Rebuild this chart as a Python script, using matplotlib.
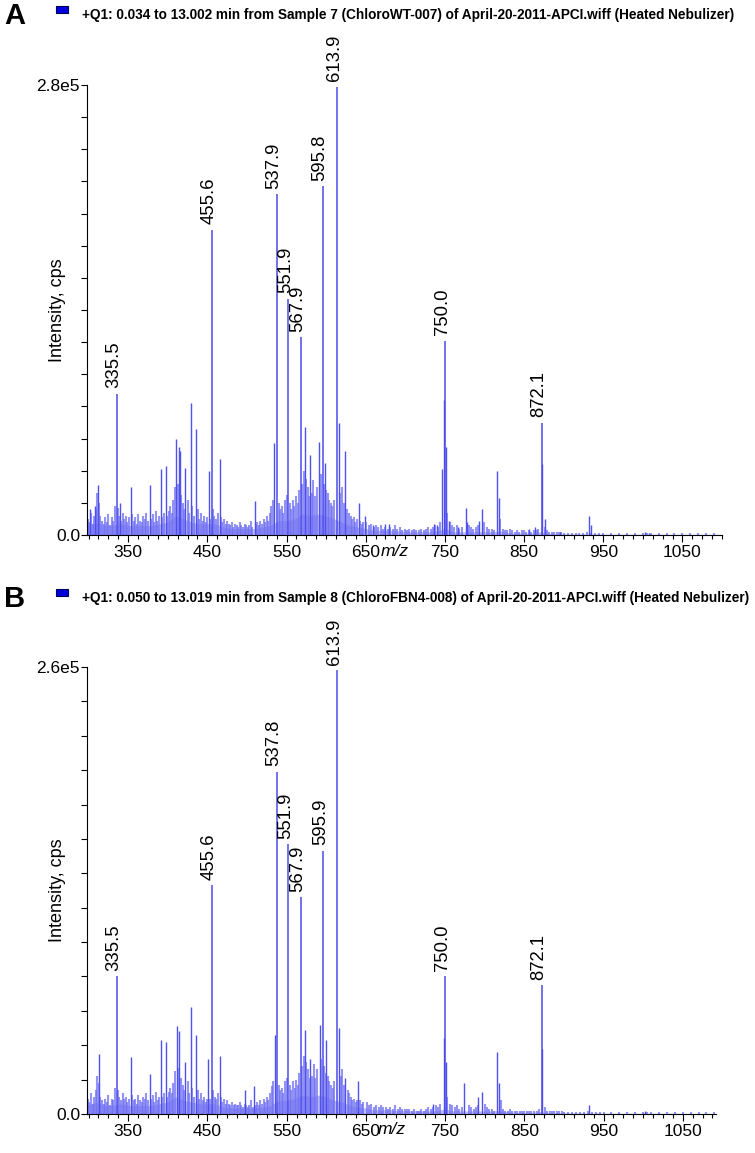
import matplotlib
matplotlib.use("Agg")
import matplotlib.pyplot as plt
import matplotlib.patches as patches
from matplotlib.ticker import MultipleLocator, FixedLocator

plt.rcParams['font.family'] = ['Liberation Sans', 'DejaVu Sans']

W, H = 755, 1153

# ---- data (intensities in units of 1e3 cps) ----
titles = [
    "+Q1: 0.034 to 13.002 min from Sample 7 (ChloroWT-007) of April-20-2011-APCI.wiff (Heated Nebulizer)",
    "+Q1: 0.050 to 13.019 min from Sample 8 (ChloroFBN4-008) of April-20-2011-APCI.wiff (Heated Nebulizer)",
]
panel_letters = ["A", "B"]
ymax_labels = ["2.8e5", "2.6e5"]
ymax = [280, 260]

# labelled peaks
label_a_mz = [335.5, 455.6, 537.9, 551.9, 567.9, 595.8, 613.9, 750.0, 872.1]
label_a_h = [88, 190, 212, 147, 123, 217, 279, 121, 70]
label_b_mz = [335.5, 455.6, 537.8, 551.9, 567.9, 595.9, 613.9, 750.0, 872.1]
label_b_h = [80, 133, 199, 157, 126, 153, 258, 80, 75]

# other visible peaks
peaks_a_mz = [302, 308, 312, 340, 353, 377.5, 391, 397.6, 411, 414,
              416, 421.9, 429, 435.4, 451.8, 465.6, 509.7, 534.8, 573.9, 579.7,
              590.7, 598.8, 616, 624, 641, 649, 659, 675, 679, 736.4,
              740.6, 746.9, 748.8, 751.5, 755, 767, 776.3, 778, 793, 797.2,
              816.1, 818, 856, 864.4, 872.5, 876, 895, 932.5, 934.5, 1003,
              1008]
peaks_a_h = [16, 18, 31, 20, 30, 31, 41, 43, 60, 55,
             52, 42, 82, 66, 40, 47, 21, 57, 67, 50,
             58, 45, 70, 52, 20, 12, 6, 7, 7, 7,
             6, 41, 84, 55, 9, 5, 17, 8, 9, 16,
             40, 23, 4, 5, 44, 10, 2, 12, 6, 2,
             1.5]
peaks_b_mz = [313, 354, 377.5, 391, 398.3, 411.4, 414.7, 422, 429.4, 436,
              451.2, 466, 497.6, 508.5, 535.8, 573, 579.5, 591.5, 599.7, 616,
              624.3, 640.6, 735, 748.7, 751.5, 774.4, 791.3, 796.8, 816, 818,
              872.5, 931.6, 1003]
peaks_b_h = [35, 33, 23, 43, 42, 51, 48, 30, 62, 46,
             32, 34, 14, 16, 46, 49, 32, 52, 43, 50,
             21, 19, 6, 44, 30, 18, 10, 13, 36, 18,
             38, 5.5, 1.5]

# low-level "grass" (shared sampling positions)
grass_mz = [299, 301, 303, 305, 307, 309, 311, 313, 315, 317,
            319, 321, 323, 325, 327, 329, 331, 333, 337, 339,
            341, 343, 345, 347, 349, 351, 355, 357, 359, 361,
            363, 365, 367, 369, 371, 373, 375, 379, 381, 383,
            385, 387, 389, 393, 395, 399,
            401, 403, 405, 407, 409, 413, 417, 419, 421, 425,
            427, 431, 433, 438, 440, 442, 444, 446, 448, 450,
            453, 457, 459, 461, 463, 467, 469, 471, 473, 475,
            477, 479, 481, 483, 485, 487, 489, 491, 493, 495,
            497, 499,
            501, 503, 505, 507, 511, 513, 515, 517, 519, 521,
            523, 525, 527, 529, 531, 533, 540, 542, 544, 546,
            548, 550, 554, 556, 558, 560, 562, 564, 566, 570,
            572, 575, 577, 579, 582, 584, 586, 588, 593, 597,
            600, 602, 604, 606, 608, 610, 618, 620, 622, 627,
            629, 631, 633, 635, 637, 639, 643, 645, 647,
            651, 654, 657, 660, 663, 666, 669, 672, 675, 678,
            681, 684, 687, 690, 693, 696, 699, 702, 705, 708,
            711, 714, 717, 720, 723, 726, 729, 732, 735, 738,
            741, 744, 753, 756, 759, 762, 765, 768, 771, 780,
            783, 786, 789, 792, 800, 803, 806, 809, 812, 820,
            823, 826, 829, 832, 835, 838, 841, 844, 847, 850,
            853, 856, 859, 862, 866, 868, 876, 879, 882, 885,
            888, 891, 894, 897, 900, 905, 910, 915, 920, 925,
            930, 935, 940, 945, 950, 960, 970, 980, 990, 1000,
            1005, 1010, 1020, 1030, 1040, 1050, 1060, 1070, 1080, 1090]
grass_a = [10, 8, 14, 7, 12, 16, 26, 20, 12, 9,
           7, 11, 8, 13, 6, 11, 9, 18, 17, 12,
           9, 14, 10, 12, 8, 11, 13, 9, 11, 7,
           13, 9, 8, 12, 10, 14, 9, 10, 13, 8,
           15, 9, 12, 11, 14, 12,
           15, 18, 14, 22, 30, 32, 25, 20, 16, 22,
           14, 18, 12, 16, 10, 14, 9, 12, 8, 11,
           10, 16, 12, 10, 14, 11, 8, 10, 7, 9,
           7, 6, 8, 5, 7, 6, 5, 8, 6, 5,
           7, 6,
           5, 6, 9, 5, 6, 8, 6, 9, 7, 10,
           8, 12, 9, 14, 18, 22, 20, 16, 18, 14,
           22, 25, 20, 16, 22, 18, 24, 20, 28, 32,
           40, 35, 30, 24, 26, 34, 24, 30, 38, 32,
           28, 26, 22, 20, 18, 22, 26, 30, 20, 16,
           14, 12, 10, 11, 8, 10, 9, 7, 8,
           8, 6, 7, 5, 6, 5, 6, 4, 5, 4,
           5, 4, 6, 4, 5, 3, 4, 3, 4, 3,
           4, 3, 3, 4, 3, 4, 5, 4, 5, 6,
           5, 8, 14, 8, 6, 5, 6, 4, 5, 6,
           5, 4, 5, 6, 8, 5, 4, 4, 3, 10,
           4, 3, 3, 4, 3, 2, 3, 2, 3, 3,
           2, 3, 2, 3, 3, 4, 5, 3, 2, 2,
           2, 2, 2, 2, 1.5, 1.5, 1.5, 1, 1.5, 1,
           2, 1.5, 1, 1, 1, 1, 1, 1, 1, 1.5,
           1, 1.5, 1, 1, 1, 1, 1, 1, 1, 1]
grass_b = [9, 7, 12, 6, 10, 14, 22, 18, 10, 8,
           6, 9, 7, 11, 5, 9, 8, 15, 14, 10,
           8, 12, 9, 10, 7, 9, 11, 8, 9, 6,
           11, 8, 7, 10, 9, 12, 8, 9, 11, 7,
           13, 8, 10, 10, 12, 10,
           13, 15, 12, 18, 25, 27, 21, 17, 14, 19,
           12, 15, 10, 14, 9, 12, 8, 10, 7, 9,
           9, 14, 10, 9, 12, 10, 7, 9, 6, 8,
           6, 5, 7, 5, 6, 5, 5, 7, 5, 4,
           6, 5,
           4, 5, 8, 4, 5, 7, 5, 8, 6, 9,
           7, 10, 8, 12, 16, 19, 17, 14, 15, 12,
           19, 21, 17, 14, 19, 15, 20, 17, 24, 28,
           34, 30, 26, 21, 22, 29, 21, 26, 32, 28,
           24, 22, 19, 17, 15, 19, 22, 26, 17, 14,
           12, 10, 8, 9, 7, 8, 8, 6, 7,
           7, 5, 6, 4, 5, 4, 5, 4, 4, 3,
           4, 3, 5, 3, 4, 3, 3, 3, 3, 2,
           3, 2, 2, 3, 2, 3, 4, 3, 4, 5,
           4, 6, 10, 6, 5, 4, 5, 3, 4, 5,
           4, 3, 4, 5, 6, 4, 3, 3, 2, 8,
           3, 2, 2, 3, 2, 2, 2, 2, 2, 2,
           2, 2, 2, 2, 2, 3, 4, 2, 1.5, 1.5,
           1.5, 1.5, 1.5, 1.5, 1, 1, 1, 1, 1, 1,
           1.5, 1, 1, 1, 1, 1, 1, 1, 1, 1,
           1, 1, 1, 1, 1, 1, 1, 1, 1, 1]

# dense baseline envelope
env_mz = [298, 310, 320, 330, 340, 350, 360, 370, 380, 390,
          400, 410, 420, 430, 440, 450, 460, 470, 480, 490,
          500, 510, 520, 530, 540, 550, 560, 570, 580, 590,
          600, 610, 620, 630, 640, 650, 660, 670, 680, 690,
          700, 710, 720, 730, 740, 750, 760, 770, 780, 790,
          800, 810, 820, 830, 840, 850, 860, 870, 880, 890,
          900, 920, 940, 960, 980, 1000, 1020, 1040, 1060, 1080,
          1100]
env_a = [6, 8, 6, 6, 7, 6, 6, 6, 6, 7,
         8, 12, 10, 8, 7, 7, 7, 5, 4, 4,
         4, 4, 5, 6, 9, 9, 10, 13, 12, 13,
         12, 10, 8, 6, 5, 4, 3, 3, 3, 2.5,
         2.5, 2, 2, 2, 2.5, 4, 2, 2, 2, 2,
         2, 2, 2.5, 1.5, 1.2, 1.2, 1.2, 2, 1, 0.8,
         0.7, 0.6, 0.6, 0.5, 0.5, 0.5, 0.5, 0.4, 0.4, 0.4,
         0.4]
env_b = [5, 7, 5, 5, 6, 5, 5, 5, 5, 6,
         7, 10, 8, 7, 6, 6, 6, 4, 3.5, 3.5,
         3.5, 3.5, 4, 5, 8, 8, 9, 11, 10, 11,
         10, 8, 7, 5, 4, 3.5, 2.5, 2.5, 2.5, 2,
         2, 1.8, 1.8, 1.8, 2, 3, 1.8, 1.8, 1.8, 1.8,
         1.8, 1.8, 2, 1.2, 1, 1, 1, 1.5, 0.8, 0.7,
         0.6, 0.5, 0.5, 0.4, 0.4, 0.4, 0.4, 0.4, 0.3, 0.3,
         0.3]

xticks = [350, 450, 550, 650, 750, 850, 950, 1050]


def fx(px):
    return px / W


def fy(py):
    return 1 - py / H


fig = plt.figure(figsize=(W / 100, H / 100), dpi=100)

# axes boxes in pixels: left, right, top, bottom
boxes = [(87, 722, 85, 535), (87, 716, 667, 1114)]
xlims = [(298, 1100), (298, 1092)]
head_y = [15, 598]

panels = [
    (label_a_mz, label_a_h, peaks_a_mz, peaks_a_h, grass_a, env_a),
    (label_b_mz, label_b_h, peaks_b_mz, peaks_b_h, grass_b, env_b),
]

for i, (lmz, lh, pmz, ph, gh, eh) in enumerate(panels):
    l, r, t, b = boxes[i]
    ax = fig.add_axes([fx(l), fy(b), fx(r - l), (b - t) / H])

    ax.fill_between(env_mz, 0, eh, color="#a4a4f8", alpha=0.75, lw=0)
    ax.vlines(grass_mz, 0, gh, color="#7070f3", lw=1.5, alpha=0.75)
    ax.vlines(pmz, 0, ph, color="#5050ee", lw=1.0)
    ax.vlines(lmz, 0, lh, color="#4c4cec", lw=1.1)
    for m, h in zip(lmz, lh):
        ax.annotate(f"{m:.1f}", (m, h), xytext=(-2, 4), textcoords="offset points",
                    rotation=90, ha="center", va="bottom", fontsize=13.3)

    ax.set_xlim(*xlims[i])
    ax.set_ylim(0, ymax[i])
    for s in ["top", "right"]:
        ax.spines[s].set_visible(False)
    ax.xaxis.set_major_locator(FixedLocator(xticks))
    ax.xaxis.set_minor_locator(MultipleLocator(12.5))
    ax.set_xticklabels([str(v) for v in xticks])
    yt = list(range(0, ymax[i] + 1, 20))
    ax.set_yticks(yt)
    ax.set_yticklabels(["0.0"] + [""] * (len(yt) - 2) + [ymax_labels[i]])
    ax.tick_params(axis="both", labelsize=12.5, direction="out", width=0.8)
    ax.tick_params(axis="x", which="major", length=5, pad=2)
    ax.tick_params(axis="x", which="minor", length=3, width=0.8)
    ax.tick_params(axis="y", length=4, pad=1)

    ax.text(0.485, -16 / (b - t), "m/z", transform=ax.transAxes, style="italic",
            fontsize=12.5, ha="center", va="center")
    fig.text(fx(58), fy((t + b) / 2), "Intensity, cps", rotation=90,
             fontsize=13, ha="center", va="center")

    hy = head_y[i]
    fig.text(fx(4), fy(hy + 1), panel_letters[i], fontsize=21, weight="bold",
             ha="left", va="center")
    fig.add_artist(patches.Rectangle((fx(56), fy(hy - 2)), fx(12), 7 / H,
                                     transform=fig.transFigure, fc="#0000dd",
                                     ec="#00005a", lw=0.8))
    fig.text(fx(82), fy(hy), titles[i], fontsize=9.8, weight="bold",
             ha="left", va="center")

fig.savefig("out.png", dpi=100)
